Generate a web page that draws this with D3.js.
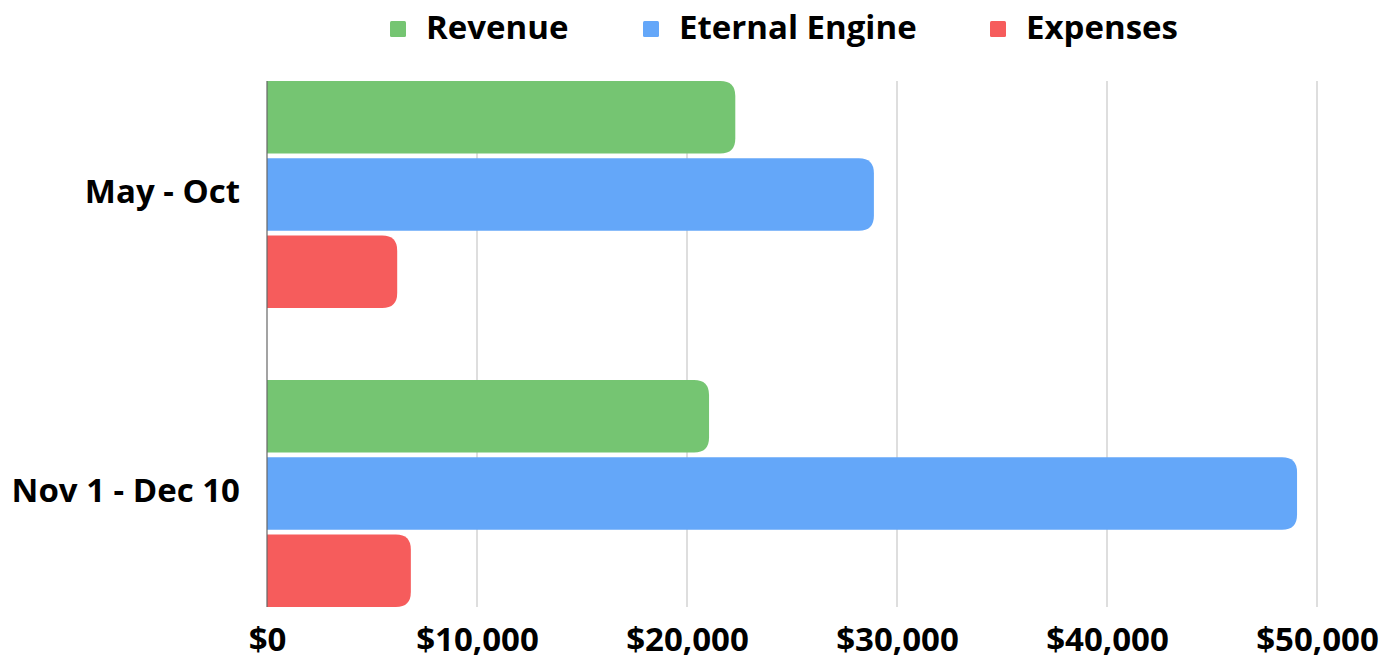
<!DOCTYPE html>
<html>
<head>
<meta charset="utf-8">
<script src="https://cdn.jsdelivr.net/npm/d3@7"></script>
<style>
  body { margin: 0; background: #fff; }
  text { font-family: "Open Sans", sans-serif; font-weight: bold; fill: #000; }
</style>
</head>
<body>
<div id="container"></div>
<script>
/* CONSTANTS AND GLOBALS */
const width = 1396,
  height = 659,
  margin = { top: 81, bottom: 52, left: 267, right: 79 }
const fontSize = "33px"

const categories = ["May - Oct", "Nov 1 - Dec 10"]
const seriesNames = ["Revenue", "Eternal Engine", "Expenses"]
const colors = ["#75c572", "#64a7f9", "#f65c5c"]
const revenue = [22300, 21050]
const eternalEngine = [28900, 49050]
const expenses = [6200, 6850]
const xTicks = [0, 10000, 20000, 30000, 40000, 50000]

const seriesValues = [revenue, eternalEngine, expenses]
const data = []
categories.forEach((c, i) => {
  seriesNames.forEach((s, j) => data.push({ category: c, series: s, value: seriesValues[j][i] }))
})

/* SCALES */
const xScale = d3.scaleLinear()
  .domain([0, 50000])
  .range([margin.left, width - margin.right])

const yScale = d3.scaleBand()
  .domain(categories)
  .range([margin.top, height - margin.bottom])
  .paddingInner(0.241)
  .paddingOuter(0)

const ySub = d3.scaleBand()
  .domain(seriesNames)
  .range([0, yScale.bandwidth()])
  .paddingInner(0.06)

const colorScale = d3.scaleOrdinal().domain(seriesNames).range(colors)

/* HTML ELEMENTS */
const svg = d3.select("#container")
  .append("svg")
  .attr("width", width)
  .attr("height", height)

// gridlines
svg.append("g")
  .selectAll("line")
  .data(xTicks.slice(1))
  .join("line")
  .attr("x1", d => xScale(d))
  .attr("x2", d => xScale(d))
  .attr("y1", margin.top)
  .attr("y2", height - margin.bottom)
  .style("stroke", "#c8c8c8")
  .style("stroke-width", 1.2)

// x labels
const xAxis = d3.axisBottom(xScale)
  .tickValues(xTicks)
  .tickSize(0)
  .tickPadding(21)
  .tickFormat(d => "$" + d3.format(",")(d))

svg.append("g")
  .attr("transform", `translate(0,${height - margin.bottom})`)
  .call(xAxis)
  .call(g => g.select(".domain").remove())
  .call(g => g.selectAll("text").style("font-size", fontSize).attr("font-family", null))

// bars with rounded right end
function barPath(x0, x1, y, h, r) {
  r = Math.min(r, (x1 - x0), h / 2)
  return `M${x0},${y}H${x1 - r}Q${x1},${y} ${x1},${y + r}V${y + h - r}Q${x1},${y + h} ${x1 - r},${y + h}H${x0}Z`
}

svg.append("g")
  .selectAll("path.bar")
  .data(data)
  .join("path")
  .attr("class", "bar")
  .attr("d", d => barPath(xScale(0), xScale(d.value), yScale(d.category) + ySub(d.series), ySub.bandwidth(), 15))
  .style("fill", d => colorScale(d.series))

// zero line
svg.append("line")
  .attr("x1", xScale(0))
  .attr("x2", xScale(0))
  .attr("y1", margin.top)
  .attr("y2", height - margin.bottom)
  .style("stroke", "#666")
  .style("stroke-width", 1.2)

// y labels
const yAxis = d3.axisLeft(yScale).tickSize(0).tickPadding(27)
svg.append("g")
  .attr("transform", `translate(${margin.left},0)`)
  .call(yAxis)
  .call(g => g.select(".domain").remove())
  .call(g => g.selectAll("text").style("font-size", fontSize).attr("dy", "0.27em").attr("font-family", null))

// legend
const legendX = [390, 643, 990]
const legend = svg.append("g")
  .selectAll("g")
  .data(seriesNames)
  .join("g")
  .attr("transform", (d, i) => `translate(${legendX[i]},0)`)

legend.append("rect")
  .attr("x", 0)
  .attr("y", 21)
  .attr("width", 16)
  .attr("height", 16)
  .attr("rx", 1.5)
  .style("fill", d => colorScale(d))

legend.append("text")
  .attr("x", 36)
  .attr("y", 39)
  .style("font-size", fontSize)
  .text(d => d)
</script>
</body>
</html>
